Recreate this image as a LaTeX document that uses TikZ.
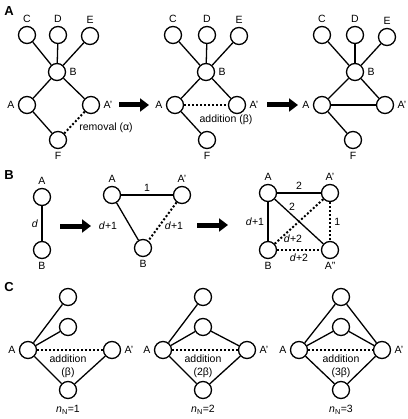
\documentclass[tikz,border=0pt]{standalone}
\usepackage{fontspec}
\setmainfont{Liberation Sans}
\usetikzlibrary{arrows.meta}

\begin{document}
\begin{tikzpicture}[x=1pt, y=-1pt,
    every node/.style={font=\fontsize{10.5}{12}\selectfont},
    vtx/.style={circle, draw, line width=1.3pt, minimum size=17pt, inner sep=0pt, fill=white},
    edg/.style={line width=1.3pt},
    dotedge/.style={line width=2pt, dash pattern=on 2pt off 2pt},
    bigarrow/.style={line width=5pt, -{Triangle[length=9pt, width=13pt]}},
    panel/.style={font=\fontsize{13}{14}\selectfont\bfseries},
    addlabel/.style={align=center, font=\fontsize{10.5}{13}\selectfont}]
  \useasboundingbox (0,0) rectangle (407,419);

  % PANEL A
  \node[panel] (labA) at (9,11) {A};

  % Graph 1: removal
  \node[vtx, label={above:C}] (a1C) at (27,35) {};
  \node[vtx, label={above:D}] (a1D) at (58,35) {};
  \node[vtx, label={above:E}] (a1E) at (90,36) {};
  \node[vtx, label={right:B}] (a1B) at (57,72) {};
  \node[vtx, label={left:A}] (a1A) at (27,105) {};
  \node[vtx, label={right:A'}] (a1Ap) at (91,105) {};
  \node[vtx, label={below:F}] (a1F) at (58,140) {};
  \draw[edg] (a1C) -- (a1B);
  \draw[edg] (a1D) -- (a1B);
  \draw[edg] (a1E) -- (a1B);
  \draw[edg] (a1B) -- (a1A);
  \draw[edg] (a1B) -- (a1Ap);
  \draw[edg] (a1A) -- (a1F);
  \draw[dotedge] (a1Ap) -- (a1F);
  \node (rem) at (106,128) {removal (α)};

  \coordinate (ar1s) at (119,105);
  \coordinate (ar1e) at (149,105);
  \draw[bigarrow] (ar1s) -- (ar1e);

  % Graph 2: addition
  \node[vtx, label={above:C}] (a2C) at (173,35) {};
  \node[vtx, label={above:D}] (a2D) at (207,35) {};
  \node[vtx, label={above:E}] (a2E) at (239,36) {};
  \node[vtx, label={right:B}] (a2B) at (206,72) {};
  \node[vtx, label={left:A}] (a2A) at (175,105) {};
  \node[vtx, label={right:A'}] (a2Ap) at (237,105) {};
  \node[vtx, label={below:F}] (a2F) at (207,140) {};
  \draw[edg] (a2C) -- (a2B);
  \draw[edg] (a2D) -- (a2B);
  \draw[edg] (a2E) -- (a2B);
  \draw[edg] (a2B) -- (a2A);
  \draw[edg] (a2B) -- (a2Ap);
  \draw[edg] (a2A) -- (a2F);
  \draw[dotedge] (a2A) -- (a2Ap);
  \node (add) at (226,120) {addition (β)};

  \coordinate (ar2s) at (267,105);
  \coordinate (ar2e) at (298,105);
  \draw[bigarrow] (ar2s) -- (ar2e);

  % Graph 3: result
  \node[vtx, label={above:C}] (a3C) at (322,35) {};
  \node[vtx, label={above:D}] (a3D) at (355,35) {};
  \node[vtx, label={above:E}] (a3E) at (387,37) {};
  \node[vtx, label={right:B}] (a3B) at (355,72) {};
  \node[vtx, label={left:A}] (a3A) at (322,105) {};
  \node[vtx, label={right:A'}] (a3Ap) at (385,105) {};
  \node[vtx, label={below:F}] (a3F) at (353,140) {};
  \draw[edg] (a3C) -- (a3B);
  \draw[edg] (a3D) -- (a3B);
  \draw[edg] (a3E) -- (a3B);
  \draw[edg] (a3B) -- (a3A);
  \draw[edg] (a3B) -- (a3Ap);
  \draw[edg] (a3A) -- (a3F);
  \draw[edg] (a3A) -- (a3Ap);

  % PANEL B
  \node[panel] (labB) at (9,175) {B};

  % Pair
  \node[vtx, label={above:A}] (b1A) at (42,197) {};
  \node[vtx, label={below:B}] (b1B) at (42,250) {};
  \draw[edg] (b1A) -- node[left, pos=0.52] {\textit{d}} (b1B);

  \coordinate (br1s) at (60,226);
  \coordinate (br1e) at (91,226);
  \draw[bigarrow] (br1s) -- (br1e);

  % Triangle
  \node[vtx, label={above:A}] (b2A) at (112,195) {};
  \node[vtx, label={above:A'}] (b2Ap) at (182,195) {};
  \node[vtx, label={below:B}] (b2B) at (143,248) {};
  \draw[edg] (b2A) -- node[above] {1} (b2Ap);
  \draw[edg] (b2A) -- (b2B);
  \draw[dotedge] (b2Ap) -- (b2B);
  \node (b2l1) at (108,226) {\textit{d}+1};
  \node (b2l2) at (174,226) {\textit{d}+1};

  \coordinate (br2s) at (197,225);
  \coordinate (br2e) at (228,225);
  \draw[bigarrow] (br2s) -- (br2e);

  % Square
  \node[vtx, label={above:A}] (b3A) at (268,193) {};
  \node[vtx, label={above:A'}] (b3Ap) at (330,193) {};
  \node[vtx, label={below:B}] (b3B) at (268,250) {};
  \node[vtx, label={below:A''}] (b3App) at (330,250) {};
  \draw[edg] (b3A) -- node[above] {2} (b3Ap);
  \draw[edg] (b3A) -- node[left] {\textit{d}+1} (b3B);
  \draw[edg] (b3A) -- (b3App);
  \draw[dotedge] (b3Ap) -- (b3B);
  \draw[dotedge] (b3Ap) -- node[right] {1} (b3App);
  \draw[dotedge] (b3B) -- node[below] {\textit{d}+2} (b3App);
  \node (b3l1) at (292,207) {2};
  \node (b3l2) at (293,239) {\textit{d}+2};

  % PANEL C
  \node[panel] (labC) at (9,287) {C};

  % n_N = 1
  \node[vtx] (c1T) at (68,297) {};
  \node[vtx] (c1M) at (68,327) {};
  \node[vtx, label={left:A}] (c1A) at (28,350) {};
  \node[vtx, label={right:A'}] (c1Ap) at (112,350) {};
  \node[vtx] (c1B) at (68,390) {};
  \draw[edg] (c1A) -- (c1T);
  \draw[edg] (c1A) -- (c1M);
  \draw[edg] (c1A) -- (c1B);
  \draw[edg] (c1B) -- (c1Ap);
  \draw[dotedge] (c1A) -- (c1Ap);
  \node[addlabel] (c1add) at (68,366) {addition\\(β)};
  \node (c1n) at (68,410) {\textit{n}\textsubscript{N}=1};

  % n_N = 2
  \node[vtx] (c2T) at (203,297) {};
  \node[vtx] (c2M) at (203,327) {};
  \node[vtx, label={left:A}] (c2A) at (163,350) {};
  \node[vtx, label={right:A'}] (c2Ap) at (247,350) {};
  \node[vtx] (c2B) at (203,390) {};
  \draw[edg] (c2A) -- (c2T);
  \draw[edg] (c2A) -- (c2M);
  \draw[edg] (c2M) -- (c2Ap);
  \draw[edg] (c2A) -- (c2B);
  \draw[edg] (c2B) -- (c2Ap);
  \draw[dotedge] (c2A) -- (c2Ap);
  \node[addlabel] (c2add) at (203,366) {addition\\(2β)};
  \node (c2n) at (203,410) {\textit{n}\textsubscript{N}=2};

  % n_N = 3
  \node[vtx] (c3T) at (341,297) {};
  \node[vtx] (c3M) at (341,327) {};
  \node[vtx, label={left:A}] (c3A) at (299,350) {};
  \node[vtx, label={right:A'}] (c3Ap) at (382,350) {};
  \node[vtx] (c3B) at (341,390) {};
  \draw[edg] (c3A) -- (c3T);
  \draw[edg] (c3T) -- (c3Ap);
  \draw[edg] (c3A) -- (c3M);
  \draw[edg] (c3M) -- (c3Ap);
  \draw[edg] (c3A) -- (c3B);
  \draw[edg] (c3B) -- (c3Ap);
  \draw[dotedge] (c3A) -- (c3Ap);
  \node[addlabel] (c3add) at (341,366) {addition\\(3β)};
  \node (c3n) at (341,410) {\textit{n}\textsubscript{N}=3};
\end{tikzpicture}
\end{document}
